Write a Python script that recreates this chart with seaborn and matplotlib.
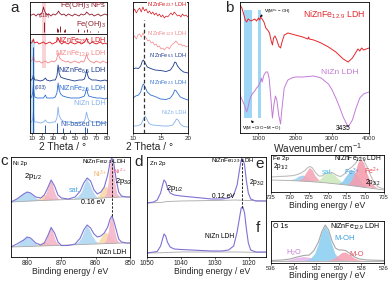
import matplotlib
matplotlib.use("Agg")
import matplotlib.pyplot as plt
import seaborn as sns

sns.set_style("ticks")
plt.rcParams["font.family"] = ["Liberation Sans", "DejaVu Sans"]
plt.rcParams["mathtext.default"] = "regular"
plt.rcParams["axes.linewidth"] = 0.6
plt.rcParams["axes.edgecolor"] = "black"

# ---------------- a: XRD (left, 2 theta 10-80) ----------------
FEOH_NPS_X = [8.5, 10, 12, 14, 16, 18, 20, 21, 22, 23, 24, 26, 28, 30, 32, 34, 35, 36, 38, 40, 42,
              44, 46, 48, 50, 52, 54, 56, 58, 60, 61, 62, 64, 66, 68, 70, 72, 74, 76, 78, 80]
FEOH_NPS_Y = [118, 118, 119, 117, 119, 118, 121, 126, 122, 120, 118, 119, 117, 119, 118, 120, 122, 120, 118, 119, 117,
              119, 118, 117, 119, 118, 117, 119, 118, 119, 121, 120, 118, 119, 117, 118, 119, 117, 118, 119, 118]
FEOH_STICK_X = [21.2, 33.2, 34.7, 36.6, 39.9, 41.2, 53.2, 59.0, 61.3, 63.9, 71.5]
FEOH_STICK_H = [10, 4, 3, 6, 2, 3, 3, 2, 3, 1.5, 1.5]

XRD_X = [8.5, 10, 11, 11.6, 12.2, 13, 15, 17, 19, 21, 23, 25, 27, 29, 31, 33, 34.6, 36, 38, 40, 42,
         44, 46, 48, 50, 52, 54, 56, 58, 59, 60, 61, 62, 64, 66, 68, 70, 72, 74, 76, 78, 80]
FE237_Y = [90, 90, 92, 94, 91, 90, 91, 89, 90, 91, 89, 90, 91, 89, 90, 91, 95, 91, 89, 91, 90,
           89, 91, 90, 89, 90, 91, 89, 90, 91, 92, 95, 92, 89, 91, 90, 89, 90, 91, 89, 90, 89]
FE129_Y = [72, 72, 74, 78, 74, 72, 71, 72, 70, 71, 72, 70, 71, 72, 71, 73, 80, 75, 73, 72, 71,
           72, 70, 71, 72, 71, 70, 72, 71, 72, 75, 79, 75, 72, 71, 70, 72, 71, 70, 72, 71, 70]

LDH_X = [8.5, 10, 11, 11.6, 12.3, 13, 15, 18, 21, 22.8, 24, 27, 30, 32, 33.5, 34.6, 35.5,
         37, 39, 42, 46, 50, 54, 57, 59, 60, 61, 62, 63, 66, 70, 74, 78, 80]
FE65_Y = [53, 53, 55, 58, 55, 53, 53, 52, 53, 55, 53, 52, 53, 53, 57, 68, 60,
          56, 55, 54, 53, 52, 53, 53, 54, 57, 63, 58, 55, 53, 53, 52, 53, 52]
FE25_Y = [35, 36, 40, 48, 40, 36, 35, 35, 35, 38, 35, 35, 35, 36, 40, 50, 43,
          39, 37, 36, 35, 35, 35, 36, 37, 40, 45, 40, 37, 36, 35, 35, 34, 35]
NIZN_Y = [11, 11, 14, 21, 14, 11, 11, 10, 11, 13, 11, 10, 11, 11, 15, 26, 18,
          14, 12, 11, 11, 10, 11, 11, 12, 15, 21, 16, 13, 11, 11, 10, 11, 10]
NI_STICK_X = [11.3, 22.7, 33.4, 38.7, 46.0, 59.9, 61.2]
NI_STICK_H = [86, 8, 10, 5, 3, 6, 5]

# ---------------- a: XRD zoom (2 theta 10-20) ----------------
ZN_X = [10, 10.3, 10.6, 10.9, 11.2, 11.5, 11.8, 12.1, 12.4, 12.7, 13, 13.3, 13.6, 13.9, 14.2, 14.5, 14.8,
        15.1, 15.4, 15.7, 16, 16.3, 16.6, 16.9, 17.2, 17.5, 17.8, 18.1, 18.4, 18.7, 19, 19.3, 19.6, 20]
ZN_237 = [121, 124, 120, 123, 125, 121, 126, 122, 124, 120, 122, 119, 121, 118, 120, 117, 119,
          116, 118, 115, 117, 116, 118, 120, 118, 121, 119, 117, 118, 116, 119, 117, 118, 116]
ZN_129 = [95, 97, 94, 98, 99, 96, 100, 97, 95, 92, 93, 90, 91, 88, 89, 86, 87,
          84, 85, 83, 85, 86, 84, 87, 89, 90, 92, 90, 88, 89, 87, 88, 86, 87]
ZS_X = [10, 10.5, 11, 11.4, 11.7, 11.9, 12.2, 12.6, 13.2, 14, 15, 16, 16.8, 17.3, 17.6, 17.8, 18.1, 18.6, 19.2, 20]
ZS_65 = [64, 65, 64.5, 67, 72, 73, 70, 66, 64.5, 63, 62.5, 61.5, 63, 67, 71, 70.5, 67, 63.5, 61, 60]
ZS_25 = [35, 37, 38, 41, 47, 49, 46, 41, 38, 36.5, 34, 33.5, 35, 39, 43, 42.5, 40, 36, 34.5, 33]
ZL_X = [10, 10.5, 11, 11.5, 11.9, 12.2, 12.5, 12.9, 13.5, 14.5, 15.5, 16.5, 17.2, 17.6, 17.9, 18.2, 18.6, 19.2, 20]
ZL_NIZN = [7, 7, 7.5, 9, 14, 17, 14, 9.5, 8, 7.5, 7, 7, 8, 11, 14, 13, 9, 6.5, 6]

# ---------------- b: FTIR ----------------
IR_RED_X = [500, 550, 600, 640, 680, 720, 760, 800, 850, 900, 950, 1000, 1030, 1060, 1100, 1150,
            1200, 1250, 1300, 1340, 1380, 1410, 1450, 1500, 1550, 1600, 1640, 1700, 1800, 1900,
            2000, 2200, 2340, 2360, 2380, 2500, 2700, 2900, 3100, 3300, 3435, 3550, 3650, 3700,
            3750, 3800, 3850, 4000]
IR_RED_Y = [128, 125, 119, 113, 111, 114, 113, 112, 113, 114, 112, 115, 113, 116, 114, 111,
            105, 103, 100, 93, 88, 95, 97, 93, 87, 85, 91, 98, 100, 99,
            98, 96, 94, 96, 94, 93, 90, 86, 81, 74, 71, 75, 81, 84,
            82, 85, 83, 85]
IR_PUR_X = [500, 560, 620, 680, 720, 760, 800, 850, 900, 950, 1000, 1050, 1080, 1100, 1150,
            1200, 1250, 1290, 1330, 1380, 1420, 1460, 1500, 1550, 1600, 1640, 1700, 1800, 1900,
            2000, 2200, 2500, 2700, 2900, 3000, 3100, 3200, 3300, 3435, 3550, 3650, 3750, 3850, 4000]
IR_PUR_Y = [38, 33, 28, 21, 26, 33, 37, 40, 42, 45, 47, 51, 55, 51, 58,
            61, 61, 55, 38, 15, 28, 37, 33, 18, 9, 25, 45, 53, 55,
            56, 56, 57, 55, 49, 43, 35, 26, 16, 6, 13, 25, 35, 39, 41]
IR_BANDS = [(600, 820), (990, 1070)]

# ---------------- c: Ni 2p ----------------
NI_ENV_X = [884.7, 883, 881, 880, 879, 877.5, 876, 875, 874, 873, 872, 871, 870, 868, 866, 864.5,
            863.5, 862.5, 861.5, 860.5, 859.5, 858.5, 857.5, 856.5, 855.8, 855.3, 854.8, 854, 853.3,
            852.5, 851, 850]
NI_ENV_UP = [55, 58, 63, 65, 64, 60, 59, 62, 69, 77, 71, 62, 59, 58, 60, 66,
             74, 79, 76, 67, 63, 65, 70, 82, 95, 99, 95, 77, 65, 61, 60, 60]
NI_ENV_LO = [10, 13, 17, 20, 19, 14, 12, 14, 21, 29.5, 24, 15, 11.5, 11.5, 13, 19,
             27, 32, 29, 23, 20, 21, 24, 30, 38, 41, 37, 27, 18, 15, 14, 14]
NI_BASE_X = [884.7, 880, 876, 872, 868, 864, 860, 856, 852, 850]
NI_BASE_UP = [55, 55.8, 56.5, 57, 57.5, 58, 58.5, 59.5, 60, 60]
NI_BASE_LO = [10, 10.5, 11, 11.5, 12, 12.5, 13, 13.5, 14, 14]

NI_SAT1_X = [884.5, 883, 882, 881, 880, 879, 878, 877, 875.5]
NI_SAT1_UP = [55.2, 57.5, 60, 63, 65, 63.5, 60.5, 58, 56.3]
NI_SAT1_LO = [10, 11.5, 14, 17.5, 20, 18, 14.5, 12, 11.1]
NI_N3A_X = [877.5, 876.5, 875.5, 874.8, 874, 873, 872]
NI_N3A_UP = [56.2, 58, 61, 62, 60.5, 58.5, 57]
NI_N3A_LO = [11, 12.5, 14.5, 15.2, 14, 12.5, 11.5]
NI_N2A_X = [875.5, 874.5, 874, 873.5, 873, 872.5, 872, 871.5, 870.5]
NI_N2A_UP = [56.4, 62, 67, 72, 77, 73, 66, 61, 57.2]
NI_N2A_LO = [11.2, 15.5, 20, 25, 29.5, 26, 20, 15, 11.7]
NI_SAT2_X = [866.5, 865, 864, 863.3, 862.5, 861.7, 861, 860, 859]
NI_SAT2_UP = [57.7, 60.5, 65, 72, 78, 73, 67, 61, 58.7]
NI_SAT2_LO = [12.4, 14.5, 19, 25.5, 31, 27, 21.5, 16, 13.3]
NI_N3B_X = [860, 859, 858.2, 857.5, 856.8, 856, 855.3, 854.5, 853.5]
NI_N3B_UP = [58.5, 61, 66, 69.5, 70, 67, 63, 60.5, 59.8]
NI_N3B_LO = [13.2, 15, 20, 23.5, 24, 21.5, 18, 15, 13.8]
NI_N2B_X = [857.5, 856.8, 856.2, 855.8, 855.3, 854.8, 854.3, 853.7, 853, 852]
NI_N2B_UP = [59.4, 63, 75, 90, 99, 90, 75, 63, 60.2, 60]
NI_N2B_LO = [13.6, 16.5, 25, 35, 40.5, 35, 25, 17, 14.2, 14]

# ---------------- d: Zn 2p ----------------
ZN2P_X = [1050, 1048, 1047, 1046, 1045.5, 1045, 1044.5, 1044, 1043.2, 1042, 1040, 1037, 1034, 1031,
          1028, 1026, 1024.5, 1023.5, 1022.8, 1022.3, 1021.8, 1021.3, 1020.8, 1020.2, 1019.5, 1018, 1015]
ZN2P_UP = [54, 55, 57, 64, 71, 77, 75, 69, 64, 62, 61, 60, 59, 58,
           58, 59, 62, 72, 87, 97, 98, 92, 77, 64, 58, 56, 56]
ZN2P_LO = [4, 5, 5.5, 11, 17, 23, 21, 15, 10, 8, 7.5, 7, 6.5, 6,
           6, 7, 11, 25, 39, 49, 50, 44, 29, 14, 7, 5, 5]
ZN_BASE_X = [1050, 1046, 1044, 1040, 1030, 1024, 1020, 1015]
ZN_BASE_UP = [54, 54.5, 55.5, 56, 56.5, 57, 56.5, 56]
ZN_BASE_LO = [4, 4.2, 4.6, 5, 5, 5, 4.8, 4.6]

# ---------------- e: Fe 2p ----------------
FE_ENV_X = [735, 733, 731, 729, 728, 727, 726, 725.2, 724.6, 724, 723.2, 722.3, 721.5, 720.5, 719.5,
            718.5, 717.5, 716.5, 715.5, 714.5, 713.5, 712.5, 711.8, 711.2, 710.5, 709.5, 708.5,
            707.5, 706.5, 705]
FE_ENV_Y = [15, 15.5, 15.8, 16.5, 17.5, 19, 21.5, 24.5, 25.5, 24, 19.5, 16, 16, 18.5, 20,
            19, 16.5, 15.5, 18, 22.5, 25, 29, 33.5, 35, 33, 25, 16, 9, 5, 3]
FE_BASE_X = [735, 730, 725, 720, 715, 710, 705]
FE_BASE_Y = [12, 11.5, 10.5, 9, 7, 4.5, 2]
FE_B1_X = [730, 728.5, 727.5, 726.5, 725.5, 724.5, 723.5]
FE_B1_Y = [11.5, 13, 15.5, 16.5, 15, 12.5, 10.3]
FE_P1_X = [727.5, 726.5, 725.5, 724.7, 724, 723.2, 722.3, 721.5]
FE_P1_Y = [11, 13.5, 19.5, 24, 22, 16, 12, 10]
FE_SAT_X = [723, 722, 721, 720, 719, 718, 717, 716, 715]
FE_SAT_Y = [10.2, 12, 16, 19, 19, 16.5, 12.5, 9.5, 7]
FE_B2_X = [717, 716, 715, 714, 713.3, 712.5, 711.5, 710.5, 709.5]
FE_B2_Y = [8, 10, 15.5, 20, 21.5, 19, 13, 7, 4.3]
FE_P2_X = [714.5, 713.5, 712.5, 711.8, 711, 710.2, 709.5, 708.5, 707.5, 706.5]
FE_P2_Y = [6.8, 11, 20, 29, 33, 28, 19, 10, 5.5, 3.5]

# ---------------- f: O 1s ----------------
O_ENV_X = [536, 535, 534.3, 533.7, 533.1, 532.6, 532.2, 531.8, 531.5, 531.2, 530.9, 530.6, 530.3,
           530, 529.7, 529.4, 529, 528.6, 528.2, 527.5, 526]
O_ENV_Y = [2.5, 3, 4, 6, 7.5, 8, 12.5, 21, 31.5, 38, 33, 22, 15, 13, 13, 12.5, 9.5, 6, 4, 3, 2.5]
O_BASE_X = [536, 526]
O_BASE_Y = [2, 2]
O_OH_X = [533, 532.5, 532.1, 531.8, 531.5, 531.2, 530.9, 530.6, 530.3, 530, 529.5, 529]
O_OH_Y = [2.1, 3.8, 9, 18, 30, 37, 31, 19, 9, 4.5, 2.6, 2.1]
O_MO_X = [531, 530.5, 530.1, 529.7, 529.4, 529, 528.6, 528.2, 527.7]
O_MO_Y = [2.1, 3.5, 6.5, 10, 10.5, 8, 4.5, 2.6, 2.1]
O_H2O_X = [535, 534.3, 533.7, 533.1, 532.5, 532, 531.5]
O_H2O_Y = [2.1, 3, 5, 6, 5, 3.2, 2.1]

# colours
DARKRED = "#8E1B2A"
RED = "#D7141E"
PINK = "#F2878A"
NAVY = "#1C3A8C"
BLUE = "#2F6FD2"
LIGHTBLUE = "#84B0EA"
STICKBLUE = "#2A58B0"
IR_RED = "#E5262A"
IR_PURPLE = "#C47BD6"
BAND = "#8CD0F4"
ENV = "#7E72D4"
BASE_GRAY = "#A8A8A8"
F_BLUE = "#A9D5F2"
F_ORANGE = "#F7D8A6"
F_PINK = "#F4B3C6"

fig = plt.figure(figsize=(3.9, 2.85), dpi=100)


def panel(left, top, right, bottom, labelsize=4.5):
    ax = fig.add_axes([left / 390, 1 - bottom / 285, (right - left) / 390, (bottom - top) / 285])
    ax.set_yticks([])
    ax.tick_params(axis="x", direction="out", length=1.5, width=0.5, pad=1, labelsize=labelsize)
    for s in ax.spines.values():
        s.set_linewidth(0.6)
    return ax


def line(ax, x, y, color, lw=0.6):
    sns.lineplot(x=x, y=y, ax=ax, color=color, lw=lw, estimator=None, sort=False, legend=False)


def txt(ax, x, y, s, color="black", size=5, ha="left", box=False, **kw):
    bbox = dict(facecolor="white", edgecolor="none", pad=0.2) if box else None
    ax.text(x, y, s, color=color, fontsize=size, ha=ha, va="center", bbox=bbox, **kw)


def xlabel(ax, s, size, xfrac, ypx, height_px):
    ax.set_xlabel(s, fontsize=size)
    ax.xaxis.set_label_coords(xfrac, -ypx / height_px, transform=ax.transAxes)
    ax.xaxis.label.set_va("top")


# ---- a, left ----
ax = panel(30, 2, 107, 133)
ax.axvspan(19.2, 23.8, ymin=0.5, ymax=1, color="#F9C9CD", alpha=0.8, lw=0)
ax.axvspan(9.2, 13.4, ymin=0, ymax=0.71, color="#B5DDF8", alpha=0.8, lw=0)
line(ax, FEOH_NPS_X, FEOH_NPS_Y, DARKRED)
ax.vlines(FEOH_STICK_X, 101, [101 + h for h in FEOH_STICK_H], color=DARKRED, lw=0.7)
ax.axhline(99, color="black", lw=0.6)
line(ax, XRD_X, FE237_Y, RED)
line(ax, XRD_X, FE129_Y, PINK)
line(ax, LDH_X, FE65_Y, NAVY)
line(ax, LDH_X, FE25_Y, BLUE)
line(ax, LDH_X, NIZN_Y, LIGHTBLUE)
ax.vlines(NI_STICK_X, 0, NI_STICK_H, color=STICKBLUE, lw=0.7)
txt(ax, 79, 127.5, r"Fe(OH)$_3$ NPs", DARKRED, 5.4, ha="right")
txt(ax, 79, 108.5, r"Fe(OH)$_3$", DARKRED, 5.4, ha="right")
txt(ax, 21.5, 117, "(110)", DARKRED, 3.6, ha="center")
txt(ax, 79, 92.5, r"NiZnFe$_{23.7}$ LDH", RED, 5.1, ha="right")
txt(ax, 79, 79.5, r"NiZnFe$_{12.9}$ LDH", PINK, 5.1, ha="right")
txt(ax, 79, 62.5, r"NiZnFe$_{6.5}$ LDH", NAVY, 5.1, ha="right")
txt(ax, 79, 44.5, r"NiZnFe$_{2.5}$ LDH", BLUE, 5.1, ha="right")
txt(ax, 18, 45, "(003)", NAVY, 3.6, ha="center")
txt(ax, 79, 29.5, "NiZn LDH", LIGHTBLUE, 5.1, ha="right")
txt(ax, 79, 8, "Ni-based LDH", STICKBLUE, 5.1, ha="right")
ax.set_xlim(8.5, 80)
ax.set_ylim(0, 131)
ax.set_xticks([10, 20, 30, 40, 50, 60, 70, 80])
xlabel(ax, "2 Theta / °", 7.3, 0.42, 8.5, 131)

# ---- a, right ----
ax = panel(133, 2, 188, 133)
line(ax, ZN_X, ZN_237, RED, 0.5)
line(ax, ZN_X, ZN_129, PINK, 0.5)
line(ax, ZS_X, ZS_65, NAVY, 0.6)
line(ax, ZS_X, ZS_25, BLUE, 0.6)
line(ax, ZL_X, ZL_NIZN, LIGHTBLUE, 0.6)
ax.vlines(12.05, 0, 113, color="#333333", lw=0.9, linestyles=(0, (3, 2)))
txt(ax, 19.8, 128.5, r"NiZnFe$_{23.7}$ LDH", RED, 4.0, ha="right", box=True)
txt(ax, 19.8, 99.5, r"NiZnFe$_{12.9}$ LDH", PINK, 4.0, ha="right", box=True)
txt(ax, 19.8, 77.5, r"NiZnFe$_{6.5}$ LDH", NAVY, 4.0, ha="right", box=True)
txt(ax, 19.8, 50.5, r"NiZnFe$_{2.5}$ LDH", BLUE, 4.0, ha="right", box=True)
txt(ax, 19.8, 20.5, "NiZn LDH", LIGHTBLUE, 4.0, ha="right", box=True)
ax.set_xlim(10, 20)
ax.set_ylim(0, 131)
ax.set_xticks([10, 15, 20])
xlabel(ax, "2 Theta / °", 7.3, 0.31, 8.5, 131)

# ---- b ----
ax = panel(240, 2, 369, 133)
for lo, hi in IR_BANDS:
    ax.axvspan(lo, hi, ymin=15 / 131, ymax=123 / 131, color=BAND, alpha=0.85, lw=0)
line(ax, IR_RED_X, IR_RED_Y, IR_RED, 0.7)
line(ax, IR_PUR_X, IR_PUR_Y, IR_PURPLE, 0.7)
txt(ax, 3050, 118, r"NiZnFe$_{12.9}$ LDH", IR_RED, 6.3, ha="center")
txt(ax, 3200, 61, "NiZn LDH", IR_PURPLE, 6.1, ha="center")
txt(ax, 3300, 4, "3435", "black", 4.8, ha="center")
ax.annotate("", xy=(990, 114), xytext=(1130, 119),
            arrowprops=dict(arrowstyle="-|>", lw=0.5, color="black", mutation_scale=3))
txt(ax, 1150, 121, r"$\nu_{(M^{n+}-OH)}$", "black", 4.5)
ax.annotate("", xy=(760, 15), xytext=(900, 8),
            arrowprops=dict(arrowstyle="-|>", lw=0.5, color="black", mutation_scale=3))
txt(ax, 560, 4, r"$\nu_{(M-O/O-M-O)}$", "black", 4.5)
ax.set_xlim(500, 4000)
ax.set_ylim(0, 131)
ax.set_xticks([1000, 2000, 3000, 4000])
xlabel(ax, r"Wavenumber/ cm$^{-1}$", 7.3, 0.6, 8, 131)

# ---- c ----
ax = panel(11, 157, 130, 257, labelsize=4.8)
for comp_x, up, lo, col in [(NI_SAT1_X, NI_SAT1_UP, NI_SAT1_LO, F_BLUE),
                            (NI_SAT2_X, NI_SAT2_UP, NI_SAT2_LO, F_BLUE),
                            (NI_N3A_X, NI_N3A_UP, NI_N3A_LO, F_ORANGE),
                            (NI_N3B_X, NI_N3B_UP, NI_N3B_LO, F_ORANGE),
                            (NI_N2A_X, NI_N2A_UP, NI_N2A_LO, F_PINK),
                            (NI_N2B_X, NI_N2B_UP, NI_N2B_LO, F_PINK)]:
    ax.fill(comp_x, up, color=col, alpha=0.85, lw=0)
    ax.fill(comp_x, lo, color=col, alpha=0.85, lw=0)
line(ax, NI_BASE_X, NI_BASE_UP, BASE_GRAY, 0.6)
line(ax, NI_BASE_X, NI_BASE_LO, BASE_GRAY, 0.6)
line(ax, NI_ENV_X, NI_ENV_UP, ENV, 0.8)
line(ax, NI_ENV_X, NI_ENV_LO, ENV, 0.8)
ax.vlines(855.2, 41, 97, color="#222222", lw=0.7, linestyles=(0, (2.5, 1.5)))
txt(ax, 884, 94, "Ni 2p", size=4.3)
txt(ax, 851, 95.5, r"NiZnFe$_{12.9}$ LDH", size=4.5, ha="right")
txt(ax, 878.4, 80, r"2p$_{1/2}$", size=5.6, ha="center")
txt(ax, 866.3, 67, "sat.", "#45A6E6", 5.2, ha="center")
txt(ax, 858.6, 83, r"Ni$^{3+}$", "#F3B266", 4.8, ha="center")
txt(ax, 853, 86, r"Ni$^{2+}$", "#EE5A7A", 4.6, ha="center")
txt(ax, 854.3, 75.5, r"2p$_{3/2}$", size=5.4)
txt(ax, 860.7, 54, "0.16 eV", size=5.0, ha="center")
txt(ax, 851, 5, "NiZn LDH", size=4.8, ha="right", box=True)
ax.set_xlim(884.7, 850)
ax.set_ylim(0, 100)
ax.set_xticks([880, 870, 860, 850])
xlabel(ax, "Binding energy / eV", 6.2, 0.5, 9.5, 100)

# ---- d ----
ax = panel(147, 157, 266, 257, labelsize=4.8)
line(ax, ZN_BASE_X, ZN_BASE_UP, BASE_GRAY, 0.6)
line(ax, ZN_BASE_X, ZN_BASE_LO, BASE_GRAY, 0.6)
line(ax, ZN2P_X, ZN2P_UP, ENV, 0.8)
line(ax, ZN2P_X, ZN2P_LO, ENV, 0.8)
ax.vlines(1022.05, 49, 100, color="#222222", lw=0.7, linestyles=(0, (2.5, 1.5)))
txt(ax, 1049, 94, "Zn 2p", size=4.3)
txt(ax, 1018.4, 96, r"NiZnFe$_{12.9}$ LDH", size=4.3, ha="right")
txt(ax, 1041.7, 69, r"2p$_{1/2}$", size=5.4, ha="center")
txt(ax, 1027.6, 60, "0.12 eV", size=4.8, ha="center")
txt(ax, 1017.6, 74, r"2p$_{3/2}$", size=4.8, ha="center")
txt(ax, 1028.8, 20, "NiZn LDH", size=4.8, ha="center")
ax.set_xlim(1050, 1015)
ax.set_ylim(0, 100)
ax.set_xticks([1050, 1040, 1030, 1020])
xlabel(ax, "Binding energy / eV", 6.2, 0.55, 9.5, 100)

# ---- e ----
ax = panel(271, 155, 384, 192, labelsize=4.2)
ax.fill(FE_B1_X, FE_B1_Y, color="#9FD0F0", alpha=0.9, lw=0)
ax.fill(FE_P1_X, FE_P1_Y, color="#F4A6B6", alpha=0.9, lw=0)
ax.fill(FE_SAT_X, FE_SAT_Y, color="#CDE9BE", alpha=0.9, lw=0)
ax.fill(FE_B2_X, FE_B2_Y, color="#8FCAEF", alpha=0.9, lw=0)
ax.fill(FE_P2_X, FE_P2_Y, color="#F49EAE", alpha=0.9, lw=0)
line(ax, FE_BASE_X, FE_BASE_Y, BASE_GRAY, 0.6)
line(ax, FE_ENV_X, FE_ENV_Y, "#BDBDBD", 0.8)
txt(ax, 734.5, 33.8, "Fe 2p", size=4.5)
txt(ax, 734.5, 25.8, r"2p$_{1/2}$", size=4.7)
txt(ax, 705.6, 33.5, r"NiZnFe$_{12.9}$ LDH", size=4.8, ha="right")
txt(ax, 720, 19, "sat.", "#5BC2EC", 5.0, ha="center")
txt(ax, 713.4, 20, r"Fe$^{3+}$", "#3E9BE0", 5.0, ha="center")
txt(ax, 708.1, 21, r"Fe$^{2+}$", "#E8464F", 5.0, ha="center")
txt(ax, 708.1, 10, r"2p$_{3/2}$", size=4.7, ha="center")
ax.set_xlim(735, 705)
ax.set_ylim(0, 37)
ax.set_xticks([735, 730, 725, 720, 715, 710, 705])
xlabel(ax, "Binding energy / eV", 6.2, 0.5, 8.5, 37)

# ---- f ----
ax = panel(271, 221, 384, 263, labelsize=4.2)
ax.fill(O_H2O_X, O_H2O_Y, color="#E6B8EA", alpha=0.9, lw=0)
ax.fill(O_OH_X, O_OH_Y, color="#8FD0F2", alpha=0.9, lw=0)
ax.fill(O_MO_X, O_MO_Y, color="#F5A3B5", alpha=0.9, lw=0)
line(ax, O_BASE_X, O_BASE_Y, BASE_GRAY, 0.6)
line(ax, O_ENV_X, O_ENV_Y, "#A8A8A8", 0.8)
txt(ax, 535.8, 36.5, "O 1s", size=5.0)
txt(ax, 526.3, 36.5, r"NiZnFe$_{12.9}$ LDH", size=5.0, ha="right")
txt(ax, 529.5, 25, "M-OH", "#3AA0DC", 5.6, ha="center")
txt(ax, 534, 10, r"H$_2$O", "#C27BD6", 5.3, ha="center")
txt(ax, 528.4, 8, "M-O", "#E0505E", 5.3, ha="center")
ax.set_xlim(536, 526)
ax.set_ylim(0, 42)
ax.set_xticks([536, 534, 532, 530, 528, 526])
xlabel(ax, "Binding energy / eV", 6.2, 0.5, 8.5, 42)

# panel letters
for letter, px, py in [("a", 15, 8), ("b", 229, 8), ("c", 4, 161), ("d", 139, 162),
                       ("e", 260, 164), ("f", 258, 228)]:
    fig.text(px / 390, 1 - py / 285, letter, fontsize=11, ha="center", va="center")

fig.savefig("out.png", dpi=100)
